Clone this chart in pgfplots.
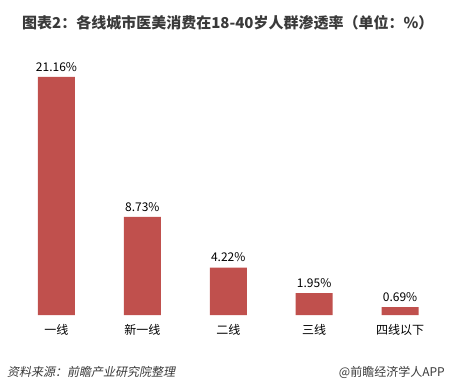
\documentclass[border=0pt]{standalone}
\usepackage{pgfplots}
\pgfplotsset{compat=1.18}
\usepackage{fontspec}
\setmainfont{Noto Sans CJK SC}
\newfontfamily\cjkit{Noto Sans CJK SC}[FakeSlant=0.2]
\definecolor{barred}{HTML}{C0504D}
\definecolor{txt}{HTML}{3A3A3A}
\begin{document}
\begin{tikzpicture}[x=1bp,y=1bp]
\path[use as bounding box] (0,0) rectangle (453,391);
\node[anchor=west, font=\fontsize{15bp}{17bp}\selectfont\bfseries, text=txt, inner sep=0] at (22,368) {图表2：各线城市医美消费在18-40岁人群渗透率（单位：\%）};
\begin{axis}[at={(13.5bp,76bp)}, anchor=south west, scale only axis,
  width=429.5bp, height=270bp, xmin=-0.5, xmax=4.5, ymin=0, ymax=24,
  hide y axis, axis x line*=bottom, x axis line style={draw=none},
  xtick=data, xticklabels={一线,新一线,二线,三线,四线以下},
  major tick length=0,
  xticklabel style={font=\fontsize{12bp}{14bp}\selectfont, text=black, yshift=-6bp},
  ybar, bar width=37bp,
  nodes near coords={\pgfmathprintnumber[fixed,zerofill,precision=2,assume math mode=true]{\pgfplotspointmeta}\%},
  nodes near coords style={font=\fontsize{12bp}{14bp}\selectfont, text=black, yshift=2bp},
  clip=false]
\addplot[fill=barred, draw=none] coordinates {(0,21.16) (1,8.73) (2,4.22) (3,1.95) (4,0.69)};
\end{axis}
\node[anchor=west, font=\fontsize{12bp}{14bp}\selectfont\cjkit, text=txt, inner sep=0] at (7,19) {资料来源：前瞻产业研究院整理};
\node[anchor=east, font=\fontsize{12bp}{14bp}\selectfont, text=txt, inner sep=0] at (445,19) {@前瞻经济学人APP};
\end{tikzpicture}
\end{document}
